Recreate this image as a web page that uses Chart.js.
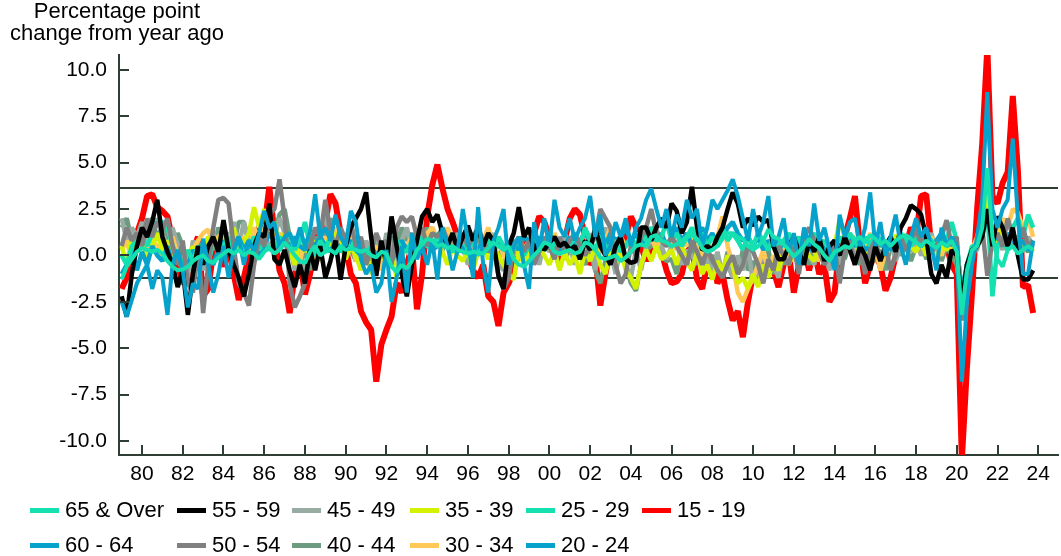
<!DOCTYPE html>
<html>
<head>
<meta charset="utf-8">
<script src="https://cdn.jsdelivr.net/npm/chart.js@4.4.0/dist/chart.umd.min.js"></script>
<style>
body { margin: 0; background: #fff; font-family: "Liberation Sans", Arial, sans-serif; }
#wrap { position: relative; width: 1061px; height: 556px; overflow: hidden; }
#ytitle { position: absolute; left: -3px; top: 0; width: 240px; text-align: center; font-size: 22px; line-height: 22px; color: #000; }
.lg { position: absolute; font-size: 22px; line-height: 22px; white-space: nowrap; color: #000; }
.lg i { display: inline-block; width: 29px; height: 5px; vertical-align: middle; margin-right: 6px; position: relative; top: -1px; }
</style>
</head>
<body>
<div id="wrap">
  <canvas id="chart" width="1061" height="556"></canvas>
  <div id="ytitle">Percentage point<br>change from year ago</div>
  <div id="legend"></div>
</div>
<script>
// quarterly readings, 1979Q1 .. 2023Q4
var startYear = 1979;
var quarters = [];
for (var q = 0; q < 180; q++) quarters.push(startYear + q / 4);

var yearTicks = [1980, 1982, 1984, 1986, 1988, 1990, 1992, 1994, 1996, 1998, 2000, 2002,
    2004, 2006, 2008, 2010, 2012, 2014, 2016, 2018, 2020, 2022, 2024];
var valueTicks = [-10, -7.5, -5, -2.5, 0, 2.5, 5, 7.5, 10];
var bandLevels = [3.63, -1.24];

var age15to19 = [
    -1.8,-1.2,0.5,1.2, 2.0,3.2,3.3,2.6, 2.4,2.1,0.8,-0.5, -1.5,-1.4,0.3,1.0, -2.2,-1.8,0.2,0.6,
    -0.6,0.4,-1.0,-2.4, -1.2,0.0,0.8,1.5, 1.5,3.7,1.2,-0.8, -1.5,-3.1,-1.0,-0.2, -2.1,-1.0,0.5,1.5,
    1.8,3.3,2.8,1.2, 0.5,-1.0,-1.5,-3.0, -3.6,-4.0,-6.8,-4.8, -4.0,-3.3,-1.5,-2.0, -0.5,0.5,-2.9,-1.0,
    2.1,3.8,4.9,3.6, 2.5,1.8,1.0,0.3, 0.0,-0.8,-1.2,-0.5, -2.2,-2.5,-3.8,-2.0, -1.5,-0.8,0.2,1.0,
    0.5,1.2,2.1,1.8, 1.0,0.3,-0.5,0.8, 2.0,2.5,2.2,1.0, -0.5,0.0,-2.7,-1.0, 0.5,-0.5,0.2,1.0,
    2.1,1.5,0.5,-0.3, 0.5,1.0,0.2,-0.8, -1.5,-1.4,-1.0,0.2, 0.5,-1.3,-1.8,-0.5, 0.0,-1.5,-1.0,-2.4,
    -3.5,-3.0,-4.4,-2.5, -1.0,-0.5,-1.2,-0.3, -0.8,-1.7,-0.5,0.2, -2.0,-0.5,0.5,-0.8, 0.3,-1.0,-0.5,-2.5,
    -2.0,0.5,1.0,2.0, 3.2,0.5,-1.5,-0.5, 0.0,-0.5,-1.9,-1.2, 0.0,0.8,0.5,1.5, 1.0,3.2,3.3,0.5,
    0.8,0.0,0.5,-0.5, -1.0,-11.0,-6.0,-2.0, 2.5,6.0,11.2,3.2, 2.8,3.9,4.5,8.6, 4.6,-1.7,-1.6,-3.1
];
var age20to24 = [
    -2.5,-3.3,-2.4,-1.5, -1.0,-0.5,-1.8,-0.8, -1.2,-3.2,-0.5,0.3, -0.8,-2.8,-1.5,-1.8, 0.9,-0.5,-2.0,-1.0,
    0.5,-1.2,0.3,1.0, -0.5,0.8,0.2,1.2, 2.4,1.5,1.8,0.5, 1.0,1.2,0.5,1.5, 0.5,1.3,3.3,1.0,
    1.5,0.8,2.2,1.0, 0.5,2.4,1.8,-0.2, -1.0,-0.5,-2.0,-1.5, 0.3,-2.5,-1.2,0.5, -2.0,1.2,-0.2,0.5,
    -0.5,0.8,-1.3,1.5, 0.5,-0.8,0.3,2.5, 0.8,-1.2,2.6,-0.5, -2.0,0.8,1.5,2.5, -0.5,0.5,1.0,-0.5,
    -1.8,1.8,0.2,2.0, 0.5,3.0,1.5,1.0, 2.0,0.8,1.5,2.0, 3.2,1.0,2.2,0.0, 0.5,1.8,1.0,2.0,
    0.5,1.5,2.0,3.0, 3.6,2.5,1.5,2.5, 1.0,2.2,1.5,3.0, 2.0,2.5,0.5,1.5, 3.0,2.5,3.0,3.5,
    4.1,3.2,2.0,0.8, 2.5,1.0,1.8,3.2, 0.5,1.0,2.0,0.2, 1.2,-0.5,1.5,0.5, 2.8,0.8,1.5,0.3,
    -0.8,2.2,1.0,1.8, 2.0,0.5,1.5,3.4, 0.5,1.8,0.0,1.0, 2.2,0.5,-0.5,1.0, 2.0,1.0,1.5,0.5,
    -0.8,1.5,0.5,1.0, 0.5,-6.8,-2.5,-0.5, 1.0,3.0,8.8,2.5, 1.5,2.5,3.0,6.3, 2.0,-1.0,-1.0,0.8
];
var age25to29 = [
    -1.3,-0.6,-0.2,0.2, 0.4,0.3,0.2,0.3, 0.1,-0.3,-0.6,-0.8, -0.75,-0.6,-0.3,-0.1, 0.0,-0.3,-0.4,-0.1,
    0.1,0.3,0.1,0.3, 0.0,0.2,0.1,-0.2, 0.2,0.4,0.1,0.3, 0.7,0.4,0.0,-0.3, -0.4,0.2,0.5,0.0,
    0.2,0.3,0.1,0.5, 0.3,0.4,0.3,0.2, 0.3,0.0,-0.1,0.2, 0.1,-0.6,-0.9,-0.5, -0.7,-0.3,0.3,0.6,
    0.9,0.8,0.5,0.6, 0.4,0.5,0.3,0.2, 0.1,0.2,0.15,0.1, 0.4,0.7,0.5,0.3, 0.5,-0.2,-0.5,-0.6,
    -0.3,0.0,0.3,0.7, 0.6,0.2,0.1,0.2, 0.3,0.1,0.2,0.7, 0.6,0.3,-0.1,-0.2, -0.1,0.0,-0.3,-0.1,
    0.2,0.5,0.6,0.5, 1.0,1.1,0.8,0.7, 0.5,0.6,0.8,1.0, 1.1,0.9,0.4,0.2, 0.3,0.5,0.9,1.2,
    1.2,1.0,0.9,0.5, 0.3,0.5,0.8,1.4, 1.0,0.9,0.6,0.3, -0.05,0.2,0.5,0.9, 0.6,0.4,0.0,-0.3,
    0.2,0.3,0.5,0.4, 0.8,1.0,0.7,1.1, 0.9,0.6,0.8,0.5, 0.8,1.0,1.1,0.9, 0.7,0.5,0.8,0.6,
    0.4,0.7,0.5,0.8, 0.2,-3.2,-0.8,0.3, 0.5,1.5,4.7,1.0, -0.2,-0.6,0.3,0.5, 0.1,0.3,0.5,0.3
];
var age30to34 = [
    0.3,0.8,-0.3,0.5, 1.0,0.2,0.8,0.5, -0.3,0.5,1.0,0.0, -0.8,-0.5,0.3,0.8, 1.2,1.4,0.5,1.0,
    1.2,0.3,0.8,0.5, 1.0,0.3,1.5,0.8, 1.5,2.0,0.8,1.2, 0.5,1.0,0.2,-0.3, 0.8,0.3,-0.5,0.5,
    1.0,0.5,1.5,0.2, 0.5,1.0,-0.3,0.3, -0.5,0.2,0.5,-0.8, 0.3,-0.5,0.8,0.2, 0.5,1.0,0.0,0.8,
    1.2,1.5,0.8,0.5, 1.5,0.8,0.3,1.0, 0.5,1.2,0.0,0.8, 1.5,0.5,0.8,0.0, -0.3,0.5,1.0,0.3,
    0.8,0.0,0.5,1.0, 0.3,1.2,0.5,0.0, 1.0,0.3,0.8,1.2, 0.5,1.5,0.2,0.8, 1.5,0.3,1.0,0.5,
    0.8,1.2,0.5,1.5, 1.0,0.3,1.2,0.5, 0.8,0.3,1.0,0.5, 1.2,0.5,0.0,0.8, 0.3,1.0,2.1,0.5,
    -0.5,-2.0,-2.5,-1.8, -1.2,-0.5,0.3,-0.8, 0.0,-0.5,0.5,0.2, -0.3,0.5,0.0,0.8, 0.2,-0.3,0.5,0.0,
    0.5,1.0,0.3,0.8, 1.0,0.5,0.3,1.2, 0.5,-0.8,0.2,0.5, 0.8,0.3,1.0,0.5, 0.2,0.8,0.5,1.0,
    0.5,0.0,0.8,0.3, 0.5,-3.0,-0.8,0.3, 1.0,2.0,3.0,1.5, 0.8,2.0,1.5,2.5, 2.3,1.5,2.0,1.0
];
var age35to39 = [
    0.5,-0.5,1.0,0.2, 0.8,-0.2,0.5,1.2, 0.3,0.8,-0.5,0.2, -1.0,-0.3,0.5,-0.8, 0.3,1.0,0.5,0.8,
    1.2,0.5,1.5,0.3, 0.8,1.2,2.6,1.5, 2.5,1.0,1.8,0.5, 1.2,0.3,-0.5,0.8, 0.2,1.0,0.5,-0.3,
    0.8,0.3,1.2,0.5, -0.2,0.5,0.0,-0.8, 0.3,-1.0,-0.3,0.5, -0.5,0.3,-1.2,0.0, 0.5,-0.3,0.2,0.8,
    1.0,0.3,0.8,0.2, -0.5,0.5,0.0,-0.3, 0.3,-0.8,0.2,0.5, -0.2,0.5,0.0,-0.5, -1.0,-1.3,0.3,-0.5,
    0.2,-0.3,0.5,0.0, -0.5,0.3,-0.8,0.2, -0.5,0.0,-1.0,0.3, -0.3,0.5,-0.5,-1.0, 0.2,-0.5,0.3,-0.8,
    -1.2,-1.8,-0.5,0.3, -0.3,0.5,-0.2,0.0, 0.3,-0.5,0.5,-0.3, -0.8,0.2,-1.0,-0.5, -1.3,-0.3,-0.8,0.0,
    -0.5,-1.5,-1.2,-1.8, -1.0,-1.7,-0.5,-1.2, -0.3,-0.8,0.2,-0.5, 0.3,-0.5,0.5,0.0, -0.3,0.5,0.0,0.3,
    0.5,1.9,1.0,0.3, 0.8,0.0,0.5,-0.3, 0.3,0.8,0.0,0.5, 1.1,0.3,0.8,0.5, 0.2,0.8,0.0,0.5,
    -0.2,0.5,0.3,0.8, 0.0,-3.5,-1.0,0.2, 0.5,1.2,3.6,1.0, 0.8,1.5,0.5,1.2, 0.3,0.8,0.5,0.2
];
var age40to44 = [
    1.5,2.0,0.8,1.2, 0.5,1.5,2.0,0.8, 1.8,1.0,0.2,1.2, 0.5,-0.8,-0.2,0.8, -0.5,1.0,0.3,1.5,
    0.8,1.2,0.5,1.8, 1.8,0.8,1.5,0.5, 1.0,2.0,1.2,2.2, 2.5,1.0,0.2,-0.5, 0.3,-0.8,1.0,0.5,
    1.2,2.0,0.8,0.2, 1.0,0.3,-0.3,0.8, 0.5,-0.5,0.8,0.2, -0.3,1.0,0.5,1.5, 0.8,1.2,0.3,0.8,
    1.5,0.5,1.0,0.3, 0.8,1.2,0.2,0.5, 0.3,-0.5,1.0,0.2, 0.8,0.3,-0.2,0.5, -0.5,0.5,0.8,0.0,
    0.3,0.8,-0.3,0.5, 1.0,0.0,0.5,-0.2, 0.3,0.8,0.0,-0.5, 0.2,-0.8,-1.5,-0.3, 0.5,-0.2,0.8,-0.5,
    -1.5,-1.9,-0.5,0.3, 0.5,1.0,0.0,-0.3, -0.2,-1.0,0.3,-0.5, 0.5,-0.3,0.2,-0.8, 0.0,-0.5,-1.0,0.2,
    -0.5,-1.0,0.3,-0.8, -0.3,-1.2,-0.5,0.3, -1.0,0.2,-0.5,0.5, -0.2,0.8,0.0,-0.5, 0.5,-0.3,0.8,0.0,
    -0.5,0.5,-0.2,0.8, 0.3,-0.5,0.5,0.0, -0.3,0.3,-0.8,0.5, 0.8,0.0,0.5,-0.3, 0.5,1.0,-0.2,0.3,
    0.8,-0.3,0.5,0.0, -0.5,-2.5,-0.5,0.3, 0.8,1.5,2.2,1.0, 0.5,1.2,0.3,0.8, 1.0,0.5,0.2,0.8
];
var age45to49 = [
    2.0,0.8,1.5,1.0, 1.8,0.5,1.0,2.0, 1.2,0.3,1.5,0.5, -0.5,-1.2,0.8,0.2, -0.8,0.5,1.2,0.3,
    1.5,0.8,1.8,0.5, 1.8,0.5,1.2,0.8, 1.5,0.3,1.0,2.0, 1.2,0.5,-0.8,0.2, -1.2,0.5,-0.3,1.2,
    2.2,0.8,1.5,0.5, 0.2,1.0,0.5,-0.5, 0.8,0.2,1.0,-0.3, 1.2,0.5,-0.5,0.8, 1.5,0.3,0.8,1.2,
    0.5,1.5,0.8,1.2, 1.0,0.3,1.2,0.5, -0.5,0.8,0.2,1.0, 0.5,1.2,-0.5,-0.8, 0.8,0.0,1.0,-0.3,
    0.5,1.0,-0.5,0.8, 0.2,0.8,0.0,1.2, 0.5,-0.5,0.8,0.3, 1.2,-0.8,0.5,1.5, 0.3,-1.0,0.5,-0.5,
    -1.2,0.3,-0.8,0.5, 0.8,1.5,0.5,-0.2, 0.5,0.8,-0.5,0.3, 0.0,-0.5,0.8,-0.3, -0.8,0.2,-1.0,-0.5,
    -1.2,0.0,-0.8,0.5, -1.5,-0.8,0.2,-1.0, -0.5,-1.2,0.3,-0.2, 0.5,-0.5,0.8,0.0, -0.5,0.8,0.2,-0.8,
    0.3,-0.5,0.5,1.0, 0.0,0.8,-0.5,0.3, 0.5,-0.8,0.2,0.8, -0.3,0.5,1.0,0.2, 0.8,0.0,0.5,1.2,
    0.2,0.8,0.3,1.0, 0.5,-3.0,-0.8,0.2, 0.3,1.8,2.0,0.5, 1.0,0.3,1.2,0.5, 0.8,0.2,1.0,0.5
];
var age50to54 = [
    0.5,1.5,0.8,1.2, 0.5,2.0,1.0,1.8, 1.4,2.0,0.5,-0.5, 0.8,-1.5,-2.0,0.5, -3.1,-0.5,1.5,3.0,
    3.1,2.8,0.5,-1.5, -2.0,-2.7,-0.5,1.0, 0.5,2.2,2.5,4.1, 2.0,-1.5,-2.8,-2.2, -1.5,0.5,1.5,1.0,
    3.0,1.2,0.5,1.5, 0.8,1.8,0.5,1.0, -0.5,0.3,1.2,0.5, 0.8,-0.5,1.5,2.1, 1.8,2.1,1.0,1.5,
    0.5,1.2,1.0,1.5, 0.8,1.0,0.2,1.2, 0.5,1.0,1.5,0.8, 0.2,0.5,-1.1,-1.8, -1.2,0.5,1.0,0.2,
    0.8,-0.5,0.2,1.0, 0.5,-0.2,1.0,0.3, 0.8,1.2,0.5,0.0, 0.5,1.0,2.5,2.0, 1.5,-0.5,-1.5,-1.0,
    0.5,0.0,1.0,1.5, 2.5,1.2,0.8,0.5, 1.0,0.5,0.0,-0.5, 0.8,0.2,-0.5,0.3, -0.2,-0.8,-1.2,-0.5,
    0.0,-1.0,-0.5,0.5, 0.2,-0.5,-1.5,-0.2, -0.8,0.5,0.0,-0.5, 0.5,-1.0,1.0,1.5, 0.8,0.2,-0.5,0.0,
    0.5,-1.5,0.3,0.8, -0.5,0.5,-1.0,0.3, 0.8,-0.2,0.5,-0.8, 0.0,1.0,0.3,0.8, 1.5,0.5,1.2,0.2,
    0.5,1.0,1.9,0.5, 1.0,-3.5,-1.0,0.0, 0.5,1.5,-1.1,0.8, 1.2,0.5,2.0,1.0, 0.5,1.5,0.5,0.8
];
var age55to59 = [
    -2.2,-3.3,-1.0,0.5, 1.5,1.0,1.8,3.0, 1.0,0.2,-0.5,-1.7, -0.8,-3.2,-1.0,0.5, -0.5,0.5,1.0,0.2,
    1.9,0.3,-0.5,-1.2, -2.2,-1.0,0.5,1.2, 1.0,2.8,-0.2,-0.5, 0.3,-0.8,-1.7,-0.5, -1.5,0.3,-0.8,0.5,
    -1.2,-0.3,0.8,-1.3, 0.5,1.5,2.0,2.5, 3.4,1.0,-1.1,0.8, -0.5,2.1,0.5,-1.0, -2.2,-0.5,0.8,2.1,
    2.5,1.8,2.2,1.2, 0.5,1.2,0.3,1.0, 1.6,0.8,1.5,0.5, 1.2,0.8,-1.1,-1.8, 0.5,1.2,2.6,1.0,
    1.5,0.2,0.8,0.3, 0.7,1.0,0.5,0.7, 0.3,0.5,-0.2,0.8, 0.3,1.5,0.5,0.0, -0.5,0.5,1.0,-0.2,
    -0.4,-0.3,1.5,1.5, 0.8,1.5,2.0,1.5, 2.8,2.4,1.2,1.8, 3.7,1.5,0.3,0.5, 0.3,1.0,1.5,2.5,
    3.4,2.8,1.5,2.0, 1.6,2.1,1.8,1.9, 0.5,-0.2,-0.2,0.5, 1.0,0.2,-0.5,0.8, 0.2,1.0,-0.3,0.5,
    0.8,0.0,1.0,0.3, -0.5,0.5,0.0,-0.8, 0.5,-0.3,0.5,1.0, 0.2,1.5,2.0,2.7, 2.5,2.2,1.0,-1.0,
    -1.5,-0.5,-1.2,0.3, 0.0,-2.5,-0.5,0.3, 0.5,1.0,2.5,0.5, 2.1,1.5,0.5,1.5, 0.0,-1.3,-1.3,-0.8
];
var age60to64 = [
    -1.0,-0.5,0.3,-0.8, 0.2,-0.5,0.5,0.0, -0.3,0.5,-0.5,0.2, -1.0,-0.5,0.3,-0.3, 0.5,0.0,-0.5,0.3,
    0.8,0.2,0.5,1.0, 0.3,0.8,0.5,0.0, 0.5,1.2,0.8,0.3, 0.8,0.5,1.0,0.5, 0.3,0.8,0.5,1.0,
    0.5,0.2,0.8,0.3, 0.5,0.8,0.3,0.0, -0.3,0.5,0.0,0.3, 0.5,-0.3,0.3,0.8, 0.3,0.5,0.0,0.5,
    0.8,0.3,0.5,1.0, 0.5,0.2,0.8,0.3, 0.5,0.0,0.3,0.8, 0.2,0.5,0.8,0.3, 0.5,0.8,0.3,1.0,
    0.8,0.5,1.0,0.3, 0.5,0.8,0.3,0.5, 1.0,0.5,0.8,1.2, 0.8,1.0,1.5,0.5, 1.2,0.8,1.0,1.5,
    0.8,1.2,0.5,1.0, 1.5,0.8,1.2,0.5, 1.0,1.5,0.8,1.2, 0.5,1.0,1.5,0.8, 1.2,0.5,1.0,1.5,
    1.8,1.2,0.8,1.0, 0.5,1.0,0.3,0.8, 0.5,0.2,0.8,0.5, 1.0,0.5,0.8,0.3, 0.5,1.0,0.2,0.5,
    0.8,0.3,0.5,1.0, 0.5,0.8,0.3,0.5, 1.0,0.5,0.8,0.3, 0.5,1.0,0.5,0.8, 1.0,0.5,0.8,0.5,
    0.8,1.2,0.5,0.8, 0.5,-2.0,-0.5,0.3, 0.5,1.5,1.8,0.8, 1.0,0.5,1.2,0.8, 0.5,0.8,0.3,0.5
];
var age65plus = [
    0.0,-0.5,0.5,0.8, 1.0,0.5,1.2,1.8, 1.8,1.5,0.5,0.0, -0.5,0.3,-0.3,0.5, 0.2,-0.5,0.8,0.3,
    0.5,1.0,0.3,0.8, 0.0,0.5,1.0,0.3, 0.8,0.3,0.5,1.0, 0.5,1.2,0.3,0.8, 1.8,0.5,0.0,0.8,
    0.3,1.0,0.5,0.2, 0.8,0.3,1.0,0.5, 0.0,0.5,-0.3,0.3, 0.5,0.0,0.8,0.3, 0.2,0.8,0.5,1.0,
    0.5,0.3,1.2,0.5, 0.8,0.2,0.5,1.0, 0.3,0.8,0.0,0.5, 0.8,0.3,1.0,0.5, 0.2,0.5,0.8,0.0,
    0.5,1.0,0.3,0.8, 1.2,0.5,0.8,0.3, 0.5,1.0,0.5,1.5, 0.8,0.3,1.0,0.5, 0.3,0.8,0.2,0.5,
    1.0,0.5,1.2,0.8, 1.5,0.8,1.0,1.8, 0.8,1.2,0.5,1.0, 1.5,0.8,1.2,0.5, 1.0,0.5,1.5,0.8,
    1.2,0.8,0.3,1.0, 0.5,1.2,0.8,0.3, 1.0,0.5,0.8,1.2, 0.5,1.0,0.3,0.8, 1.2,0.5,0.8,0.3,
    0.5,1.0,0.5,1.2, 0.8,0.3,1.0,0.5, 1.2,0.8,0.3,1.0, 0.5,1.2,0.8,0.5, 1.0,0.5,1.2,0.8,
    0.5,1.0,0.8,1.8, 0.8,-2.5,-0.5,0.5, 0.5,1.0,2.5,-2.2, 0.5,1.0,0.3,1.5, 2.0,1.0,2.2,1.5
];

var axisColor = '#2f3f36';

// first entry is drawn on top
var series = [
    { label: '25 - 29', values: age25to29, color: '#14e0b0', width: 4 },
    { label: '20 - 24', values: age20to24, color: '#06a2cc', width: 4 },
    { label: '55 - 59', values: age55to59, color: '#000000', width: 4.5 },
    { label: '50 - 54', values: age50to54, color: '#808080', width: 4.5 },
    { label: '65 & Over', values: age65plus, color: '#14e0b0', width: 4.5 },
    { label: '60 - 64', values: age60to64, color: '#06a2cc', width: 4.5 },
    { label: '35 - 39', values: age35to39, color: '#d4f200', width: 4.5 },
    { label: '30 - 34', values: age30to34, color: '#ffc857', width: 4.5 },
    { label: '45 - 49', values: age45to49, color: '#98aca4', width: 4.5 },
    { label: '40 - 44', values: age40to44, color: '#6b9c80', width: 4.5 },
    { label: '15 - 19', values: age15to19, color: '#ff0000', width: 6 }
];

var legendRows = [
    ['65 & Over', '55 - 59', '45 - 49', '35 - 39', '25 - 29', '15 - 19'],
    ['60 - 64', '50 - 54', '40 - 44', '30 - 34', '20 - 24']
];
var legendColumns = [30, 177, 292, 410, 526, 642];
var legendTops = [499, 534];

var bandLines = {
    id: 'bandLines',
    beforeDatasetsDraw: function (chart) {
        var ctx = chart.ctx, a = chart.chartArea, y = chart.scales.y;
        ctx.save();
        ctx.strokeStyle = axisColor;
        ctx.lineWidth = 2;
        ctx.beginPath();
        bandLevels.forEach(function (v) {
            var py = Math.round(y.getPixelForValue(v));
            ctx.moveTo(a.left, py);
            ctx.lineTo(a.right, py);
        });
        ctx.stroke();
        ctx.restore();
    }
};

var innerTicks = {
    id: 'innerTicks',
    afterDatasetsDraw: function (chart) {
        var ctx = chart.ctx, a = chart.chartArea;
        var x = chart.scales.x, y = chart.scales.y;
        ctx.save();
        ctx.strokeStyle = axisColor;
        ctx.lineWidth = 2;
        ctx.beginPath();
        x.ticks.forEach(function (t) {
            var px = Math.round(x.getPixelForValue(t.value));
            ctx.moveTo(px, a.bottom);
            ctx.lineTo(px, a.bottom - 10);
        });
        y.ticks.forEach(function (t) {
            var py = Math.round(y.getPixelForValue(t.value));
            ctx.moveTo(a.left, py);
            ctx.lineTo(a.left + 10, py);
        });
        ctx.stroke();
        ctx.restore();
    }
};

Chart.defaults.font.family = '"Liberation Sans", Arial, sans-serif';
Chart.defaults.font.size = 21;
Chart.defaults.color = '#000';

var chart = new Chart(document.getElementById('chart').getContext('2d'), {
    type: 'line',
    data: {
        datasets: series.map(function (s) {
            return {
                label: s.label,
                data: s.values.map(function (v, i) { return { x: quarters[i], y: v }; }),
                borderColor: s.color,
                backgroundColor: s.color,
                borderWidth: s.width,
                borderJoinStyle: 'bevel',
                pointRadius: 0,
                tension: 0,
                fill: false
            };
        })
    },
    options: {
        responsive: false,
        animation: false,
        events: [],
        layout: { padding: { left: 0, top: 55, right: 3, bottom: 61 } },
        plugins: { legend: { display: false }, tooltip: { enabled: false } },
        scales: {
            x: {
                type: 'linear',
                min: 1978.87,
                max: 2024.97,
                afterFit: function (s) { s.height = 40; },
                afterBuildTicks: function (s) { s.ticks = yearTicks.map(function (v) { return { value: v }; }); },
                ticks: {
                    padding: 7,
                    autoSkip: false,
                    maxRotation: 0,
                    callback: function (v) { return String(v).slice(2); }
                },
                grid: { display: true, drawOnChartArea: false, drawTicks: false, color: axisColor },
                border: { display: true, color: axisColor, width: 2 }
            },
            y: {
                min: -10.75,
                max: 10.8,
                afterFit: function (s) { s.width = 119; },
                afterBuildTicks: function (s) { s.ticks = valueTicks.map(function (v) { return { value: v }; }); },
                ticks: {
                    padding: 12,
                    callback: function (v) { return v.toFixed(1); }
                },
                grid: { display: true, drawOnChartArea: false, drawTicks: false, color: axisColor },
                border: { display: true, color: axisColor, width: 2 }
            }
        }
    },
    plugins: [bandLines, innerTicks]
});

// html legend in the reference's two-row grid
var legendBox = document.getElementById('legend');
legendRows.forEach(function (row, r) {
    row.forEach(function (name, c) {
        var ds = chart.data.datasets.find(function (d) { return d.label === name; });
        var item = document.createElement('div');
        item.className = 'lg';
        item.style.left = legendColumns[c] + 'px';
        item.style.top = legendTops[r] + 'px';
        var sw = document.createElement('i');
        sw.style.background = ds.borderColor;
        item.appendChild(sw);
        item.appendChild(document.createTextNode(name));
        legendBox.appendChild(item);
    });
});
</script>
</body>
</html>
